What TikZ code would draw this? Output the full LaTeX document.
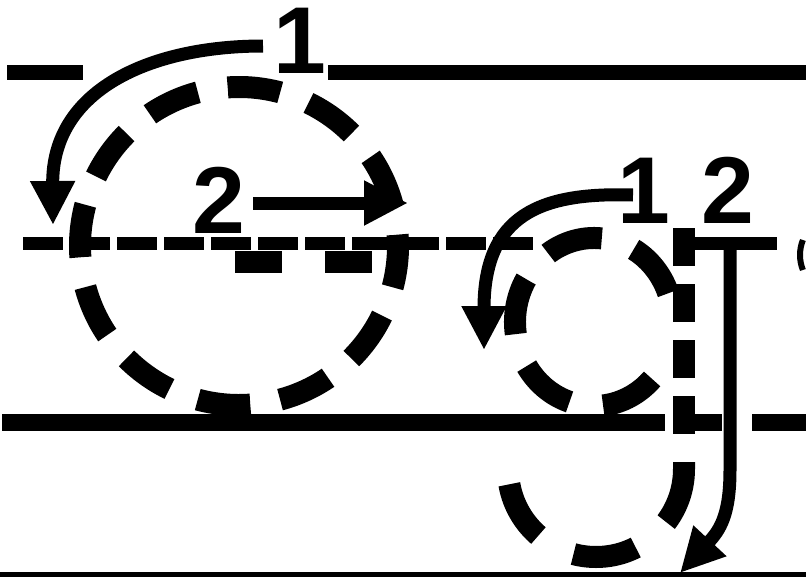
\documentclass[tikz,border=0pt]{standalone}
\usepackage{fontspec}
\setmainfont{Liberation Sans}
\usetikzlibrary{arrows.meta}

\begin{document}
\begin{tikzpicture}[x=1pt, y=-1pt,
    guide/.style={line width=15pt},
    trace/.style={line width=22pt, dash pattern=on 53pt off 30.25pt},
    hint/.style={line width=13pt, -{Triangle[length=44pt, width=42pt]}},
    num/.style={font=\fontsize{95}{95}\selectfont\bfseries, inner sep=0pt, anchor=base}]
  \useasboundingbox (0,0) rectangle (806,576);
  % guide lines
  \draw[guide] (7,72.5) -- (83,72.5);
  \draw[guide] (328,72.5) -- (806,72.5);
  \draw[line width=13pt, dash pattern=on 40pt off 7pt] (23,243.5) -- (533,243.5);
  \draw[line width=13pt] (680,243.5) -- (777,243.5);
  \draw[line width=16.5pt] (2,422.5) -- (665,422.5);
  \draw[line width=16.5pt] (693,422.5) -- (722,422.5);
  \draw[line width=16.5pt] (752,422.5) -- (806,422.5);
  \draw[line width=9pt] (0,576) -- (806,576);
  % letter o
  \draw[trace] (239,246) ++(-4.05:159) arc[start angle=-4.05, delta angle=360, radius=159];
  \draw[line width=22pt, dash pattern=on 47pt off 43pt] (235,262) -- (400,262);
  % letter g
  \draw[trace, dash pattern=on 57pt off 34pt] (594,322) ++(-20:79 and 84) arc[start angle=-20, end angle=-330, x radius=79, y radius=84];
  \draw[line width=22pt, dash pattern=on 38pt off 18pt] (684,228) -- (684,442);
  \draw[line width=22pt, dash pattern=on 64pt off 40pt] (684,462) -- (684,469) arc[start angle=0, end angle=170, radius=88];
  \draw[line width=6pt] (840,255) ++(158:40) arc[start angle=158, end angle=202, radius=40];
  % stroke order
  \node[num] (o-one) at (300,73) {1};
  \node[num] (o-two) at (219,233) {2};
  \node[num] (g-one) at (644,223) {1};
  \node[num] (g-two) at (728,223) {2};
  \coordinate (o-a) at (263,46);
  \coordinate (o-b) at (53,225);
  \coordinate (o-c) at (253,203);
  \coordinate (o-d) at (408,203);
  \coordinate (g-a) at (633,195);
  \coordinate (g-b) at (484,350);
  \coordinate (g-c) at (730,243);
  \coordinate (g-d) at (680,573);
  \draw[hint] (o-a) .. controls (150,46) and (52,90) .. (o-b);
  \draw[hint] (o-c) -- (o-d);
  \draw[hint] (g-a) .. controls (540,192) and (484,215) .. (g-b);
  \draw[hint] (g-c) -- (730,470) .. controls (730,515) and (720,530) .. (g-d);
\end{tikzpicture}
\end{document}
